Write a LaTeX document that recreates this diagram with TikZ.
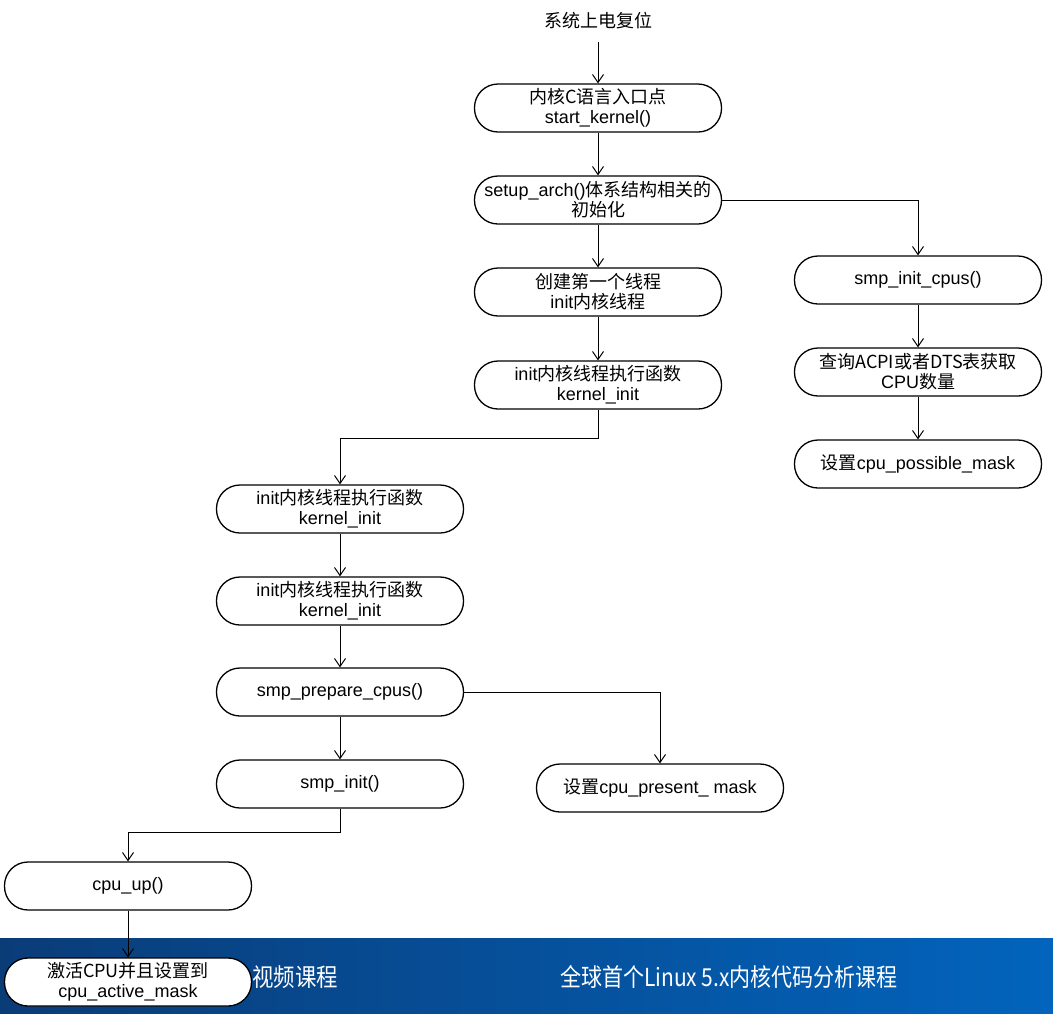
\documentclass[tikz,border=0pt]{standalone}
\usepackage{fontspec}
\setmainfont{Liberation Sans}
\newfontfamily\cjkfont{Noto Sans CJK SC}
\newcommand{\zh}[1]{{\cjkfont #1}}
\usetikzlibrary{arrows.meta}
\definecolor{bannerL}{HTML}{0A3C78}
\definecolor{bannerR}{HTML}{0264BD}
\begin{document}
\begin{tikzpicture}[x=1pt,y=-1pt,
  box/.style={draw=black, line width=1.3pt, fill=white, rounded corners=23.5pt,
    minimum width=247pt, minimum height=48pt, inner sep=0pt, align=center,
    font=\fontsize{18}{20}\selectfont},
  conn/.style={draw=black, line width=1pt, -{Straight Barb[length=8pt,width=11pt]}},
  label/.style={font=\fontsize{18}{20}\selectfont, inner sep=0pt},
  bantext/.style={text=white, inner sep=0pt, font=\fontsize{21}{24}\selectfont}
]
\useasboundingbox (0,0) rectangle (1053,1013);
\fill[white] (0,0) rectangle (1053,1013);
\shade[left color=bannerL, right color=bannerR] (0,938) rectangle (1053,1013);
\node[bantext] (ban1) at (295,977) {\scalebox{1.02}[1.18]{\zh{视频课程}}};
\node[bantext] (ban2) at (729,977) {\scalebox{1.0}[1.18]{\zh{全球首个Linux 5.x内核代码分析课程}}};

\node[label] (top) at (598,21) {\zh{系统上电复位}};
\coordinate (topend) at (598,42);
\node[box] (n1) at (598,108) {\zh{内核C语言入口点}\\start\_kernel()};
\node[box] (n2) at (598,200) {setup\_arch()\zh{体系结构相关的}\\\zh{初始化}};
\node[box] (n3) at (598,292) {\zh{创建第一个线程}\\init\zh{内核线程}};
\node[box] (n4) at (598,385) {init\zh{内核线程执行函数}\\kernel\_init};
\node[box] (n5) at (340,509) {init\zh{内核线程执行函数}\\kernel\_init};
\node[box] (n6) at (340,601) {init\zh{内核线程执行函数}\\kernel\_init};
\node[box] (n7) at (340,692) {smp\_prepare\_cpus()};
\node[box] (n8) at (340,784) {smp\_init()};
\node[box] (n9) at (660,788) {\zh{设置}cpu\_present\_ mask};
\node[box] (n10) at (128,886) {cpu\_up()};
\node[box] (n11) at (128,982) {\zh{激活CPU并且设置到}\\cpu\_active\_mask};
\node[box] (r1) at (918,280) {smp\_init\_cpus()};
\node[box] (r2) at (918,372) {\zh{查询ACPI或者DTS表获取}\\CPU\zh{数量}};
\node[box] (r3) at (918,464) {\zh{设置}cpu\_possible\_mask};

\draw[conn] (topend) -- (n1);
\draw[conn] (n1) -- (n2);
\draw[conn] (n2) -- (n3);
\draw[conn] (n3) -- (n4);
\draw[conn] (n4.south) -- ++(0,29) -| (n5.north);
\draw[conn] (n5) -- (n6);
\draw[conn] (n6) -- (n7);
\draw[conn] (n7) -- (n8);
\draw[conn] (n7.east) -| (n9.north);
\draw[conn] (n8.south) -- ++(0,24) -| (n10.north);
\draw[conn] (n10) -- (n11);
\draw[conn] (n2.east) -| (r1.north);
\draw[conn] (r1) -- (r2);
\draw[conn] (r2) -- (r3);
\end{tikzpicture}
\end{document}
